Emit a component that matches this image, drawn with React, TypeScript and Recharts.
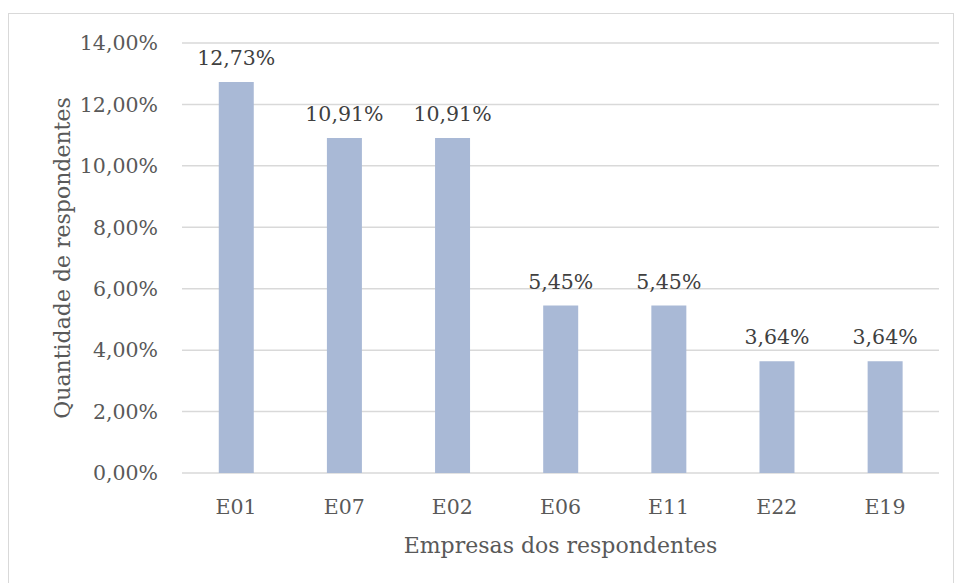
import { BarChart, Bar, XAxis, YAxis, CartesianGrid, LabelList } from 'recharts';

const companies = ['E01', 'E07', 'E02', 'E06', 'E11', 'E22', 'E19'];
const shares = [12.73, 10.91, 10.91, 5.45, 5.45, 3.64, 3.64];
const yTicks = [0, 2, 4, 6, 8, 10, 12, 14];

const data = companies.map((company, i) => ({ company, share: shares[i] }));

const FONT = '"DejaVu Serif", serif';
const TEXT = '#595959';
const GRID = '#D9D9D9';
const BAR = '#A9B9D6';

const pct = (v: number) => `${v.toFixed(2).replace('.', ',')}%`;

// axis titles drawn relative to the axis viewBox
const YTitle = ({ viewBox }: any) => {
  const cx = viewBox.x + 53;
  const cy = viewBox.y + viewBox.height / 2;
  return (
    <text x={cx} y={cy} transform={`rotate(-90 ${cx} ${cy})`} textAnchor="middle" dominantBaseline="central"
      fill={TEXT} fontSize={22} fontFamily={FONT}>
      Quantidade de respondentes
    </text>
  );
};

const XTitle = ({ viewBox }: any) => {
  const cx = viewBox.x + viewBox.width / 2;
  return (
    <text x={cx} y={viewBox.y + 72} textAnchor="middle" dominantBaseline="central"
      fill={TEXT} fontSize={22} fontFamily={FONT}>
      Empresas dos respondentes
    </text>
  );
};

export default function App() {
  return (
    <div style={{ position: 'absolute', left: 8, top: 13, width: 946, height: 580, border: `1px solid ${GRID}`, boxSizing: 'border-box', background: '#fff' }}>
      <BarChart width={944} height={578} data={data} margin={{ top: 29, right: 14, bottom: 0, left: 0 }} barCategoryGap="34%">
        <CartesianGrid vertical={false} stroke={GRID} strokeWidth={1.5} />
        <XAxis dataKey="company" axisLine={false} tickLine={false} tickSize={0} tickMargin={26} height={119}
          tick={{ fill: TEXT, fontSize: 20.5, fontFamily: FONT }} label={<XTitle />} />
        <YAxis domain={[0, 14]} ticks={yTicks} interval={0} axisLine={false} tickLine={false} tickSize={0} tickMargin={24} width={173}
          tickFormatter={pct} tick={{ fill: TEXT, fontSize: 20.5, fontFamily: FONT }} label={<YTitle />} />
        <Bar dataKey="share" fill={BAR} isAnimationActive={false}>
          <LabelList dataKey="share" position="top" offset={17} formatter={(v: any) => pct(Number(v))}
            fill="#404040" fontSize={20.5} fontFamily={FONT} />
        </Bar>
      </BarChart>
    </div>
  );
}
